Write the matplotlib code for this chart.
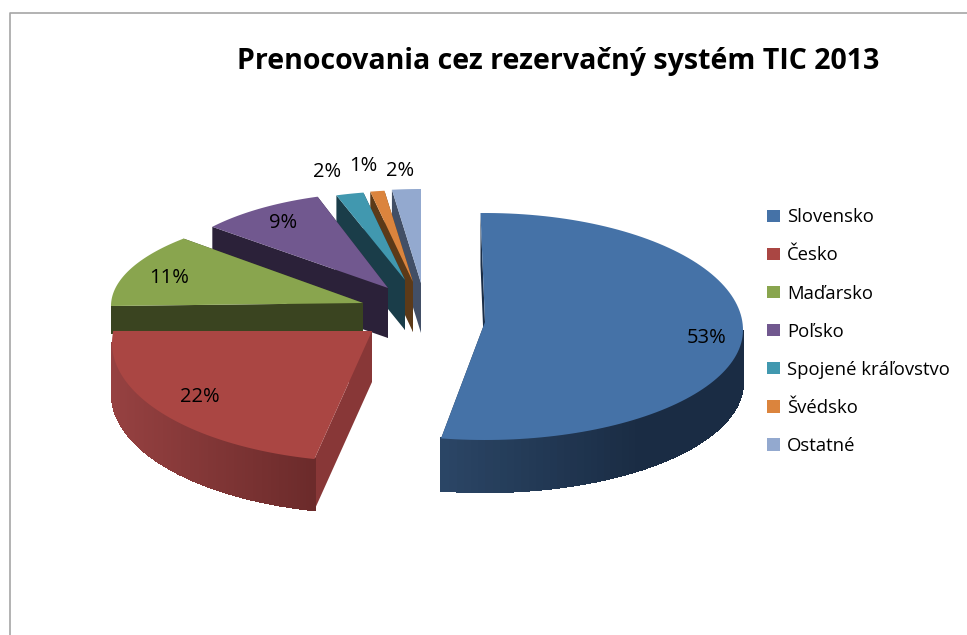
#!/usr/bin/env python

# imports
import matplotlib
matplotlib.use('Agg')
import matplotlib.pyplot as plt
from matplotlib.colors import to_rgb
from matplotlib.patches import Patch
import numpy as np

# data
TITLE = 'Prenocovania cez rezervačný systém TIC 2013'
COUNTRIES = ['Slovensko', 'Česko', 'Maďarsko', 'Poľsko', 'Spojené kráľovstvo', 'Švédsko', 'Ostatné']
SHARES = [53, 22, 11, 9, 2, 1, 2]

# colours
TOP_COLORS = ['#4572A7', '#AA4643', '#89A54E', '#71588F', '#4198AF', '#DB843D', '#93A9CF']
FACE_COLORS = ['#1B2E47', '#883737', '#3A4420', '#2B2139', '#1A3D49', '#5C3A18', '#424F66']
RIM_LEFT = ['#2B4666', '#964141', '#3A4420', '#2B2139', '#1A3D49', '#5C3A18', '#424F66']
RIM_RIGHT = ['#1A2C44', '#6C2B2B', '#3A4420', '#2B2139', '#1A3D49', '#5C3A18', '#424F66']

# exploded slice geometry, in pixels
APEX_X = [485, 372, 363, 388, 405, 413, 421]
APEX_Y = [322, 331, 303, 288, 280, 282, 283]
RADIUS_X = [258, 260, 252, 228, 222, 228, 232]
RADIUS_BACK = [117, 119, 96, 96, 89, 92, 94]
RADIUS_FRONT = [110, 119, 96, 96, 89, 92, 94]
SHIFT_Y = [8, 12, 3, 0, 0, 0, 0]
START_NUDGE = [-1, 2, 0, 0, 0, 0, 0]
END_NUDGE = [-1, 5.8, 5, 0, 0, 0, 0]
DEPTH = [52, 51, 28, 50, 50, 50, 50]

# label centres
LABEL_X = [707, 200, 169, 283, 327, 363, 400]
LABEL_Y = [338, 397, 278, 223, 172, 166, 171]

FONT = 'Open Sans'


def arc_points(i, start, end):
    degrees = np.linspace(start, end, 120)
    theta = np.radians(degrees)
    radius_y = np.where(np.cos(theta) > 0, RADIUS_BACK[i], RADIUS_FRONT[i])
    x = APEX_X[i] + RADIUS_X[i] * np.sin(theta)
    y = APEX_Y[i] + SHIFT_Y[i] - radius_y * np.cos(theta)
    return x, y, theta


def draw_slice(ax, i, start, end):
    x, y, theta = arc_points(i, start + START_NUDGE[i], end + END_NUDGE[i])
    px, py = APEX_X[i], APEX_Y[i]
    depth = DEPTH[i]
    order = len(SHARES) - i

    # cut faces
    for ex, ey in ((x[0], y[0]), (x[-1], y[-1])):
        ax.fill([px, ex, ex, px], [py, ey, ey + depth, py + depth],
                color=FACE_COLORS[i], lw=0, zorder=order)

    # rim, only the part facing the viewer, darkening from left to right
    left, right = np.array(to_rgb(RIM_LEFT[i])), np.array(to_rgb(RIM_RIGHT[i]))
    span = min(x.max() - x.min(), 200) or 1
    for k in range(len(x) - 1):
        if np.cos(theta[k]) > -0.001:
            continue
        t = np.clip((x[k] - x.min()) / span, 0, 1)
        ax.fill([x[k], x[k + 1], x[k + 1], x[k]],
                [y[k], y[k + 1], y[k + 1] + depth, y[k] + depth],
                color=tuple(left + (right - left) * t), lw=1, antialiased=False, zorder=order)

    # top surface
    ax.fill(np.r_[px, x], np.r_[py, y], color=TOP_COLORS[i], lw=0, zorder=order + 0.5)


def main():
    fig = plt.figure(figsize=(9.67, 6.35), dpi=100)
    ax = fig.add_axes([0, 0, 1, 1])
    ax.set_xlim(0, 967)
    ax.set_ylim(635, 0)
    ax.axis('off')

    # chart area border, only top and left show
    ax.plot([967, 10, 10], [13, 13, 635], color='#A6A6A6', lw=1.2, zorder=0)

    # slices
    edges = np.cumsum([0] + SHARES) * 3.6
    for i in range(len(SHARES)):
        draw_slice(ax, i, edges[i], edges[i + 1])

    # data labels
    for i, share in enumerate(SHARES):
        ax.text(LABEL_X[i], LABEL_Y[i], f'{share}%', ha='center', va='center',
                fontsize=14.5, family=FONT, color='black', zorder=20)

    ax.text(558, 61, TITLE, ha='center', va='center', fontsize=20.5,
            fontweight='bold', family=FONT, color='black')

    # legend
    handles = [Patch(color=c, lw=0) for c in TOP_COLORS]
    ax.legend(handles, COUNTRIES, loc='upper left', bbox_to_anchor=(0.793, 0.672),
              frameon=False, prop={'family': FONT, 'size': 13.3}, labelspacing=1.09,
              handlelength=0.7, handleheight=0.65, handletextpad=0.38, borderpad=0, borderaxespad=0)

    fig.savefig('out.png', dpi=100)


if __name__ == '__main__':
    main()
